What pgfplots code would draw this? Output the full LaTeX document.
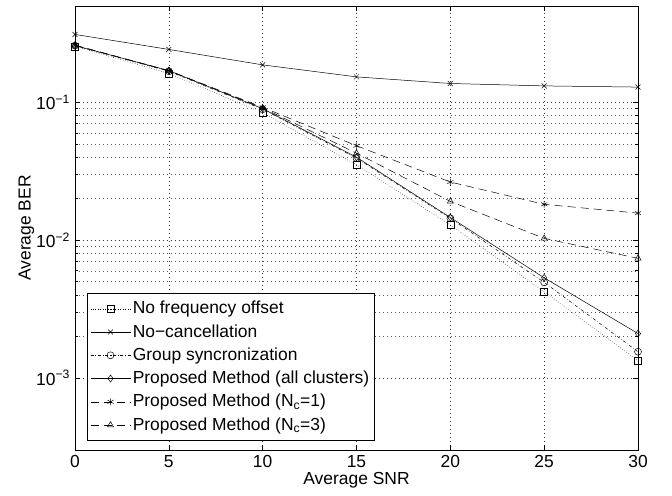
\documentclass[border=0pt]{standalone}
\usepackage{fontspec}
\setmainfont{Liberation Sans}
\usepackage{pgfplots}
\pgfplotsset{compat=1.18}

\begin{document}
\fontsize{17.5}{21}\selectfont
\begin{tikzpicture}
\begin{axis}[
  scale only axis,
  width=563bp, height=444bp,
  xmin=0, xmax=30,
  ymode=log, ymin=3e-4, ymax=0.5,
  xtick={0,5,10,15,20,25,30},
  xticklabels={0,5,10,15,20,25,30},
  ytick={1e-3,1e-2,1e-1},
  yticklabels={10\textsuperscript{−3},10\textsuperscript{−2},10\textsuperscript{−1}},
  ticklabel style={font=\fontsize{17.5}{21}\selectfont},
  label style={font=\fontsize{17.5}{21}\selectfont},
  grid=both,
  major grid style={dash pattern=on 0.8bp off 3.2bp, black!80},
  minor grid style={dash pattern=on 0.8bp off 3.2bp, black!65},
  tick align=inside,
  major tick length=5bp,
  minor tick length=3bp,
  tick style={black, line width=0.5pt},
  axis line style={black, line width=0.9pt},
  xlabel={Average SNR},
  ylabel={Average BER},
  xticklabel style={yshift=1bp},
  yticklabel style={xshift=1bp},
  xlabel style={yshift=7bp},
  ylabel style={yshift=-10bp},
  clip=false,
  every axis plot/.append style={black, line width=0.5pt, mark size=3.5bp, mark options={solid}},
  legend cell align=left,
  legend style={at={(0.021,0.02)}, anchor=south west, draw=black, line width=0.9pt,
    font=\fontsize{17.5}{21}\selectfont, row sep=8bp, inner xsep=3bp, inner ysep=8bp,
    nodes={inner xsep=2bp, inner ysep=0bp},
    /tikz/every even column/.append style={column sep=0bp}},
  legend image code/.code={
    \draw[mark repeat=2, mark phase=2, #1] plot coordinates {(0bp,0bp) (20bp,0bp) (40bp,0bp)};
  },
]
\addplot[dotted, mark=square] coordinates {
  (0,0.255) (5,0.162) (10,0.084) (15,0.0352) (20,0.0129) (25,0.00422) (30,0.00133)
};
\addlegendentry{No frequency offset}
\addplot[solid, mark=x] coordinates {
  (0,0.311) (5,0.242) (10,0.187) (15,0.153) (20,0.137) (25,0.1316) (30,0.129)
};
\addlegendentry{No−cancellation}
\addplot[dash dot, mark=o] coordinates {
  (0,0.258) (5,0.168) (10,0.089) (15,0.0394) (20,0.0144) (25,0.00494) (30,0.00155)
};
\addlegendentry{Group syncronization}
\addplot[solid, mark=diamond] coordinates {
  (0,0.258) (5,0.17) (10,0.090) (15,0.0400) (20,0.0146) (25,0.00533) (30,0.0021)
};
\addlegendentry{Proposed Method (all clusters)}
\addplot[dash pattern=on 8bp off 5bp, mark=asterisk] coordinates {
  (0,0.260) (5,0.170) (10,0.092) (15,0.0484) (20,0.0264) (25,0.0182) (30,0.0157)
};
\addlegendentry{Proposed Method (N\textsubscript{c}=1)}
\addplot[dash pattern=on 8bp off 5bp, mark=triangle] coordinates {
  (0,0.259) (5,0.169) (10,0.091) (15,0.0428) (20,0.0191) (25,0.0103) (30,0.00738)
};
\addlegendentry{Proposed Method (N\textsubscript{c}=3)}
\end{axis}
\pgfresetboundingbox
\path ([xshift=-75bp,yshift=-46bp]current axis.south west) rectangle ([xshift=34bp,yshift=6bp]current axis.north east);
\end{tikzpicture}
\end{document}
